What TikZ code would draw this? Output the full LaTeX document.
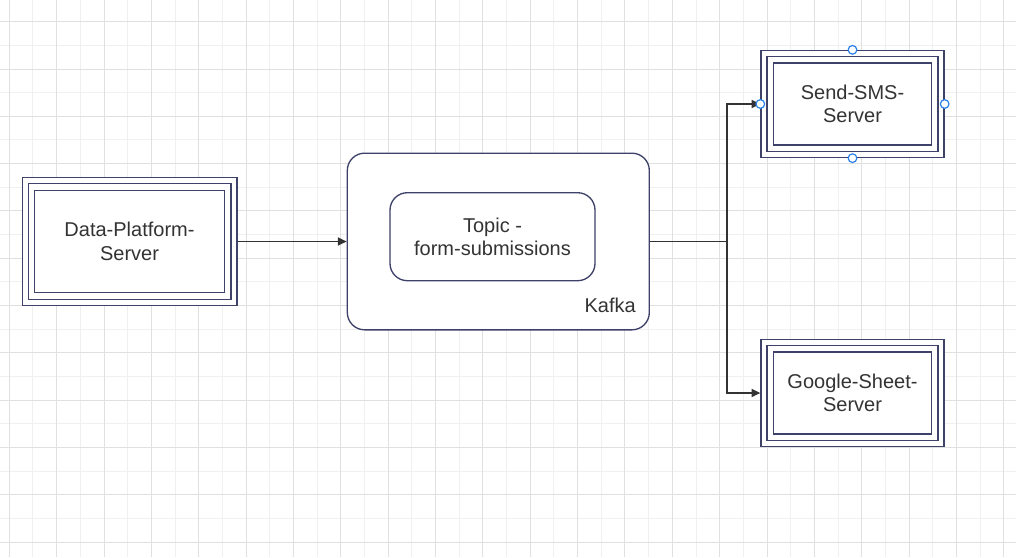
\documentclass[tikz,border=0pt]{standalone}
\usepackage{fontspec}
\setmainfont{Liberation Sans}
\usetikzlibrary{arrows.meta}
\definecolor{boxline}{RGB}{62,66,105}
\definecolor{textgray}{RGB}{51,51,51}
\definecolor{gridmajor}{RGB}{224,224,224}
\definecolor{gridminor}{RGB}{240,240,240}
\definecolor{handleblue}{RGB}{41,128,235}
\tikzset{
	label text/.style={text=textgray, align=center, font=\fontsize{15pt}{17.6pt}\selectfont},
	server/.style={label text, draw=boxline, line width=1pt, double=white, double distance=3.5pt,
		fill=white, inner sep=0pt, outer sep=2.75pt,
		path picture={\draw[boxline, line width=1pt] ([shift={(7.2pt,-7.2pt)}]path picture bounding box.north west) rectangle ([shift={(-7.2pt,7.2pt)}]path picture bounding box.south east);}},
	kafka box/.style={draw=boxline, line width=1pt, rounded corners=13pt, fill=white,
		minimum width=226.5pt, minimum height=132.5pt},
	topic box/.style={label text, draw=boxline, line width=1pt, rounded corners=13pt, fill=white,
		minimum width=153.75pt, minimum height=66pt},
	link/.style={draw=textgray, line width=1pt},
	flow/.style={link, -{Triangle[length=6.5pt,width=6pt]}},
	handle/.style={circle, draw=handleblue, fill=white, line width=0.9pt, inner sep=0pt, minimum size=6.5pt}
}
\begin{document}
\begin{tikzpicture}[x=0.75pt, y=-0.75pt]
		\useasboundingbox (0,0) rectangle (1016,557);
		\fill[white] (0,0) rectangle (1016,557);
		\foreach \i in {0,...,42} {\ifodd\i \draw[gridminor, line width=0.75pt] (9.3+23.68*\i,0) -- (9.3+23.68*\i,557); \fi}
		\foreach \i in {0,...,22} {\ifodd\i \draw[gridminor, line width=0.75pt] (0,21.7+23.65*\i) -- (1016,21.7+23.65*\i); \fi}
		\foreach \i in {0,2,...,42} \draw[gridmajor, line width=0.75pt] (9.3+23.68*\i,0) -- (9.3+23.68*\i,557);
		\foreach \i in {0,2,...,22} \draw[gridmajor, line width=0.75pt] (0,21.7+23.65*\i) -- (1016,21.7+23.65*\i);

		\node[server, minimum width=156.5pt, minimum height=91.3pt] (dps) at (129.5,241.5) {Data-Platform-\\Server};
		\node[kafka box] (kafka) at (498.3,241.5) {};
		\node[topic box] (topic) at (492.5,236.7) {Topic -\\form-submissions};
		\node[label text, inner sep=0pt, anchor=base east] (kafkalabel) at ([shift={(-14,-18)}]kafka.south east) {Kafka};
		\node[server, minimum width=132.75pt, minimum height=75.75pt] (sms) at (852.5,104) {Send-SMS-\\Server};
		\node[server, minimum width=132.75pt, minimum height=75.75pt] (gss) at (852.5,393) {Google-Sheet-\\Server};
		\coordinate (split) at (727,241.5);

		\draw[flow] (dps) -- (kafka);
		\draw[link] (kafka) -- (split);
		\draw[flow] (split) |- (sms);
		\draw[flow] (split) |- (gss);

		\foreach \a in {north,south,east,west}
			\node[handle] (sms-\a) at (sms.\a) {};
\end{tikzpicture}
\end{document}
